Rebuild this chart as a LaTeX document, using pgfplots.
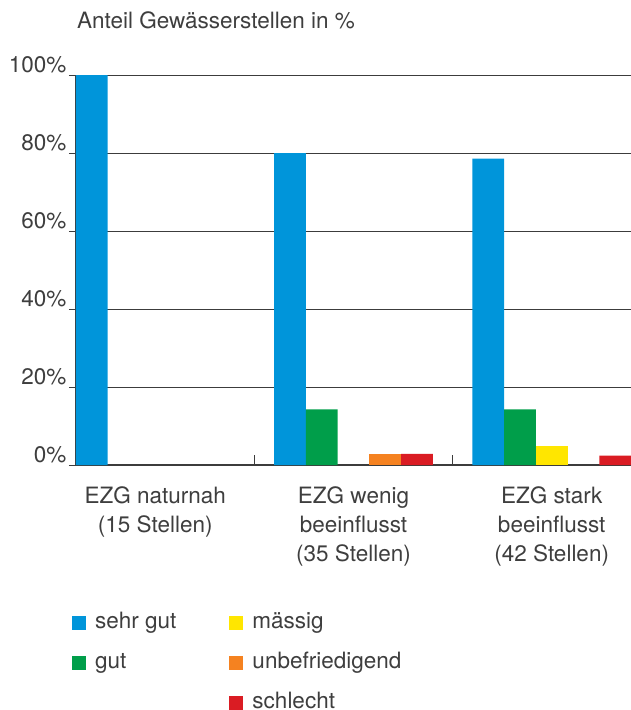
\documentclass[border=0pt]{standalone}
\usepackage{fontspec}
\setmainfont{TeX Gyre Heros}
\usepackage{pgfplots}
\pgfplotsset{compat=1.18}
\definecolor{cblue}{RGB}{0,149,218}
\definecolor{cgreen}{RGB}{0,158,74}
\definecolor{cyellow}{RGB}{255,230,0}
\definecolor{corange}{RGB}{245,130,32}
\definecolor{cred}{RGB}{218,28,35}
\definecolor{txt}{RGB}{62,62,62}
\definecolor{gridc}{RGB}{60,60,60}
\pgfplotsset{sqlegend/.style={legend image code/.code={\fill[##1] (0pt,-7pt) rectangle (14pt,7pt);}}}
\newcommand{\fs}{\fontsize{22.5}{29}\selectfont}
\begin{document}
\begin{tikzpicture}
\begin{axis}[
  scale only axis, width=555pt, height=390pt,
  xmin=-0.4, xmax=2.4, ymin=0, ymax=100,
  bar width=0.16,
  axis x line=bottom, axis y line=left,
  axis line style={-, draw=gridc, line width=1.2pt},
  ytick={0,20,40,60,80,100},
  yticklabels={0\%,20\%,40\%,60\%,80\%,100\%},
  ymajorgrids, grid style={draw=gridc, line width=1pt},
  xtick={0,1,2},
  xticklabels={{EZG naturnah\\(15 Stellen)},{EZG wenig\\beeinflusst\\(35 Stellen)},{EZG stark\\beeinflusst\\(42 Stellen)}},
  minor xtick={0.5,1.5},
  tick align=inside, major tick length=7pt, minor tick length=10pt,
  major x tick style={draw=none},
  minor x tick style={draw=gridc, line width=1.2pt},
  y tick style={draw=gridc, line width=1pt, xshift=-7pt},
  xticklabel style={align=center, font=\fs, text=txt, anchor=north, yshift=-18pt},
  yticklabel style={anchor=base east, font=\fs, text=txt, yshift=3pt, xshift=-6pt},
  legend columns=2,
  legend cell align=left,
  legend style={at={(0,0)}, anchor=north west, xshift=-4pt, yshift=-145pt, draw=none, fill=none, inner sep=0pt, font=\fs, text=txt, row sep=15pt,
    nodes={text height=16pt, text depth=5pt, inner xsep=0pt},
    /tikz/column 1/.style={column sep=9pt},
    /tikz/column 2/.style={column sep=53pt},
    /tikz/column 3/.style={column sep=9pt}},
]
\addplot[ybar, bar shift=-0.32, fill=cblue, draw=none, forget plot] coordinates {(0,100) (1,80) (2,78.57)};
\addplot[ybar, bar shift=-0.16, fill=cgreen, draw=none, forget plot] coordinates {(1,14.29) (2,14.29)};
\addplot[ybar, bar shift=0, fill=cyellow, draw=none, forget plot] coordinates {(2,4.76)};
\addplot[ybar, bar shift=0.16, fill=corange, draw=none, forget plot] coordinates {(1,2.86)};
\addplot[ybar, bar shift=0.32, fill=cred, draw=none, forget plot] coordinates {(1,2.86) (2,2.38)};
\addlegendimage{sqlegend, fill=cblue, draw=none}
\addlegendentry{sehr gut}
\addlegendimage{sqlegend, fill=cyellow, draw=none}
\addlegendentry{mässig}
\addlegendimage{sqlegend, fill=cgreen, draw=none}
\addlegendentry{gut}
\addlegendimage{sqlegend, fill=corange, draw=none}
\addlegendentry{unbefriedigend}
\addlegendimage{empty legend}
\addlegendentry{}
\addlegendimage{sqlegend, fill=cred, draw=none}
\addlegendentry{schlecht}
\end{axis}
\node[anchor=base west, font=\fs, text=txt, inner sep=0pt] at (1pt,436.7pt) {Anteil Gewässerstellen in \%};
\pgfresetboundingbox
\path[use as bounding box] (-76pt,-245pt) rectangle (555pt,465pt);
\end{tikzpicture}
\end{document}
